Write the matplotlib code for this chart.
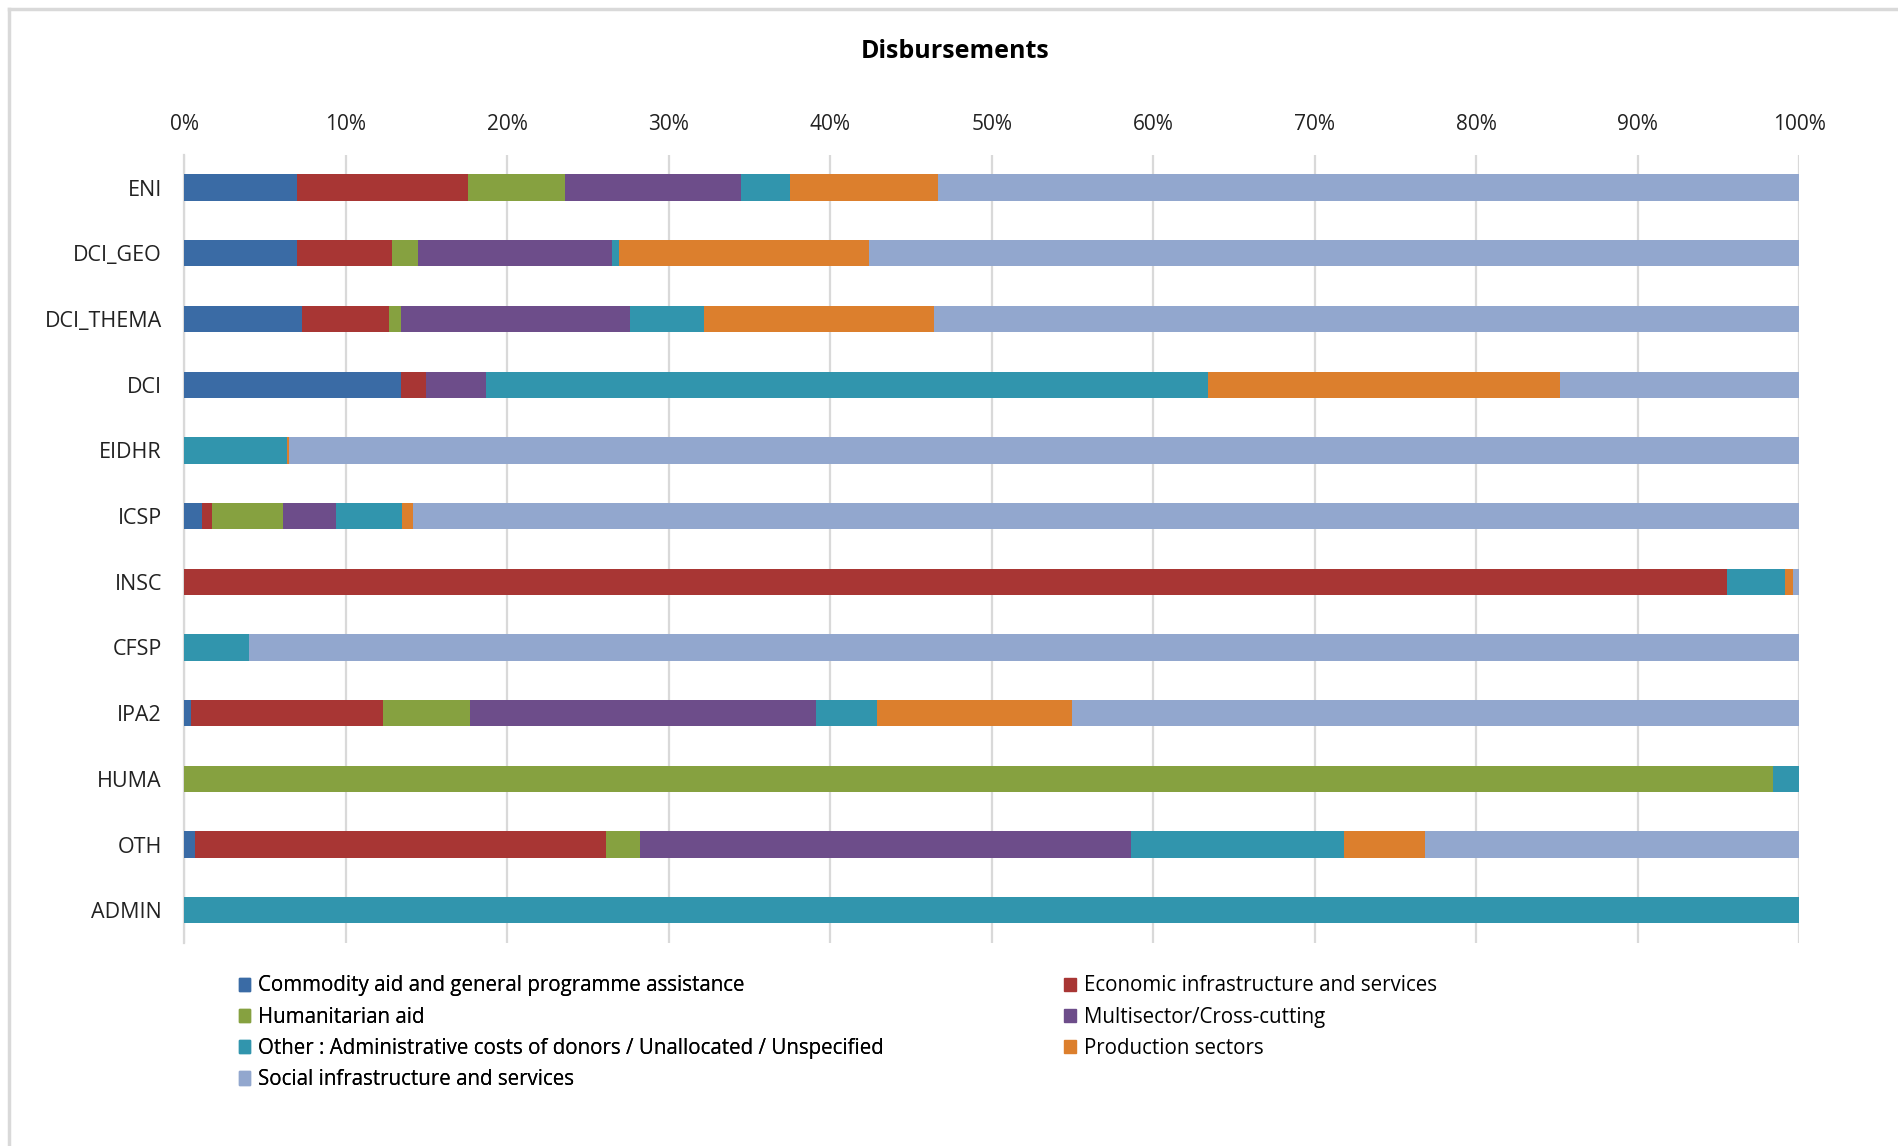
import matplotlib.pyplot as plt
import numpy as np
from matplotlib.patches import Patch
from matplotlib.ticker import PercentFormatter

plt.rcParams['font.family'] = ['Open Sans', 'DejaVu Sans']

# instruments, top to bottom
programmes = ['ENI', 'DCI_GEO', 'DCI_THEMA', 'DCI', 'EIDHR', 'ICSP',
              'INSC', 'CFSP', 'IPA2', 'HUMA', 'OTH', 'ADMIN']

# share of disbursements per sector (%)
commodity    = [7.0, 7.0, 7.3, 13.4, 0.0, 1.1, 0.0, 0.0, 0.4, 0.0, 0.7, 0.0]
economic     = [10.6, 5.9, 5.4, 1.6, 0.0, 0.6, 95.5, 0.0, 11.9, 0.0, 25.4, 0.0]
humanitarian = [6.0, 1.6, 0.7, 0.0, 0.0, 4.4, 0.0, 0.0, 5.4, 98.4, 2.1, 0.0]
multisector  = [10.9, 12.0, 14.2, 3.7, 0.0, 3.3, 0.0, 0.0, 21.4, 0.0, 30.4, 0.0]
other        = [3.0, 0.4, 4.6, 44.7, 6.4, 4.1, 3.6, 4.0, 3.8, 1.6, 13.2, 100.0]
production   = [9.2, 15.5, 14.2, 21.8, 0.1, 0.7, 0.5, 0.0, 12.1, 0.0, 5.0, 0.0]
social       = [53.3, 57.6, 53.6, 14.8, 93.5, 85.8, 0.4, 96.0, 45.0, 0.0, 23.2, 0.0]

sectors = ['Commodity aid and general programme assistance',
           'Economic infrastructure and services',
           'Humanitarian aid',
           'Multisector/Cross-cutting',
           'Other : Administrative costs of donors / Unallocated / Unspecified',
           'Production sectors',
           'Social infrastructure and services']
colors = ['#3A6BA5', '#A83634', '#86A140', '#6D4D8A', '#3195AD', '#DC7F2D', '#92A7CE']
series = [commodity, economic, humanitarian, multisector, other, production, social]

fig = plt.figure(figsize=(18.98, 11.46), dpi=100)
ax = fig.add_axes([0.097, 0.177, 0.851, 0.688])

y = np.arange(len(programmes))
left = np.zeros(len(programmes))
for vals, col in zip(series, colors):
    vals = np.array(vals)
    ax.barh(y, vals, left=left, height=0.4, color=col, zorder=3)
    left += vals

ax.set_xlim(0, 100)
ax.set_ylim(len(programmes) - 0.5, -0.5)
ax.set_yticks(y)
ax.set_yticklabels(programmes)
ax.set_xticks(np.arange(0, 101, 10))
ax.xaxis.set_major_formatter(PercentFormatter(decimals=0))
ax.xaxis.tick_top()
ax.tick_params(axis='x', length=0, pad=14, labelsize=15, colors='#222222')
ax.tick_params(axis='y', length=0, pad=16, labelsize=15.5, colors='#222222')
ax.grid(axis='x', color='#D9D9D9', lw=1.6, zorder=0)
for s in ['top', 'right', 'bottom']:
    ax.spines[s].set_visible(False)
ax.spines['left'].set_color('#D9D9D9')
ax.spines['left'].set_linewidth(1.6)

fig.text(0.503, 0.955, 'Disbursements', ha='center', va='center',
         fontsize=18, fontweight='bold')

# outer chart frame (cut off at right and bottom)
fig.add_artist(plt.Line2D([0.005, 1], [0.992, 0.992], color='#D9D9D9', lw=2.5))
fig.add_artist(plt.Line2D([0.005, 0.005], [0, 0.992], color='#D9D9D9', lw=2.5))

handles = [Patch(color=c, label=l) for c, l in zip(colors, sectors)]
leg_kw = dict(frameon=False, fontsize=14.8, handlelength=0.55, handleheight=0.6,
              handletextpad=0.4, labelspacing=0.5, loc='upper left')
leg1 = fig.legend(handles=handles[0::2], bbox_to_anchor=(0.116, 0.165), **leg_kw)
fig.add_artist(leg1)
fig.legend(handles=handles[1::2], bbox_to_anchor=(0.551, 0.165), **leg_kw)

fig.savefig('out.png', dpi=100)
